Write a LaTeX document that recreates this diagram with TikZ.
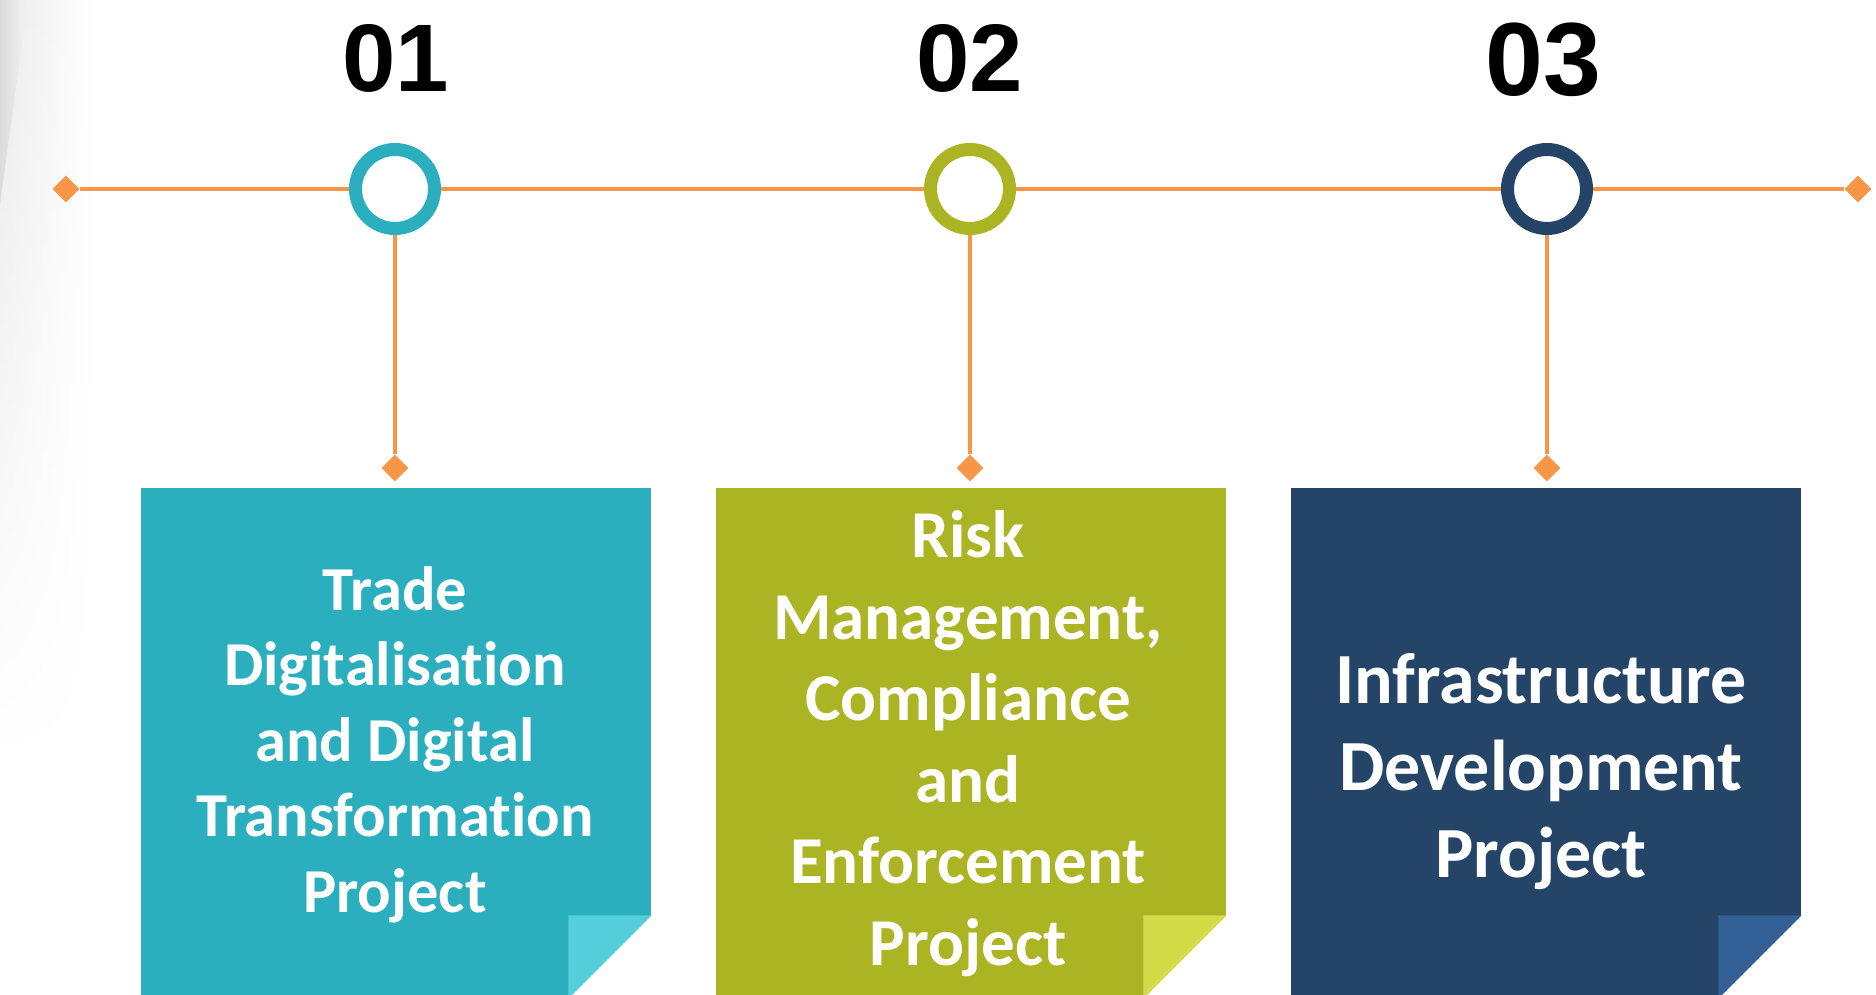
\documentclass[tikz,border=0pt]{standalone}
\usepackage{fontspec}
\usetikzlibrary{shapes.geometric}
\usetikzlibrary{positioning}
\usetikzlibrary{fadings}
\newfontfamily\cardfont[Ligatures=NoCommon]{Carlito}
\newfontfamily\numfont{Liberation Sans}
\definecolor{tlorange}{HTML}{F79646}
\definecolor{tealbox}{HTML}{2BAFBF}
\definecolor{tealfold}{HTML}{55CFDB}
\definecolor{olivebox}{HTML}{ABB423}
\definecolor{olivefold}{HTML}{D3DC48}
\definecolor{navybox}{HTML}{244468}
\definecolor{navyfold}{HTML}{336096}
\tikzset{
    ring/.style = {circle, line width=13pt, fill=white, minimum size=79pt, inner sep=0pt},
    tip/.style = {diamond, fill=tlorange, minimum size=27pt, inner sep=0pt},
    link/.style = {-, line width=4pt, tlorange},
    card/.style = {rectangle, minimum width=510pt, minimum height=510pt, inner sep=0pt, anchor=north west},
    cardtext/.style = {align=center, text=white, anchor=base, inner sep=0pt, font=\cardfont\bfseries},
    stepno/.style = {anchor=base, inner sep=0pt, font=\numfont\bfseries}
}

\begin{document}
\begin{tikzpicture}[x=1pt, y=1pt]
\clip (0,0) rectangle (1876,994);
% page shadow on the left edge
\shade[left color=gray!16, right color=white, path fading=south] (0,230) rectangle (95,994);
\shade[left color=gray!28, right color=gray!10] (0,994) -- (28,994) -- (0,790) -- cycle;

% timeline
\node[tip] (L) at (66,805) {};
\node[tip] (R) at (1858,805) {};
\draw[link] (L) -- (R);

\node[tip] (D1) at (395,526) {};
\node[tip] (D2) at (970,526) {};
\node[tip] (D3) at (1547,526) {};
\draw[link] (395,805) -- (D1);
\draw[link] (970,805) -- (D2);
\draw[link] (1547,805) -- (D3);

\node[ring, draw=tealbox] (C1) at (395,805) {};
\node[ring, draw=olivebox] (C2) at (970,805) {};
\node[ring, draw=navybox] (C3) at (1547,805) {};

\node[stepno, font=\numfont\bfseries\fontsize{96}{110}\selectfont] (N1) at (396,902) {01};
\node[stepno, font=\numfont\bfseries\fontsize{96}{110}\selectfont] (N2) at (970,902) {02};
\node[stepno, font=\numfont\bfseries\fontsize{104}{120}\selectfont] (N3) at (1543,898) {03};

% cards with folded corner
\node[card, fill=tealbox] (B1) at (141,506) {};
\fill[white] (B1.south east) -- ++(0,83) -- ++(-83,-83) -- cycle;
\fill[tealfold] ([xshift=-83pt]B1.south east) -- ++(0,83) -- ++(83,0) -- cycle;

\node[card, fill=olivebox] (B2) at (716,506) {};
\fill[white] (B2.south east) -- ++(0,83) -- ++(-83,-83) -- cycle;
\fill[olivefold] ([xshift=-83pt]B2.south east) -- ++(0,83) -- ++(83,0) -- cycle;

\node[card, fill=navybox] (B3) at (1291,506) {};
\fill[white] (B3.south east) -- ++(0,83) -- ++(-83,-83) -- cycle;
\fill[navyfold] ([xshift=-83pt]B3.south east) -- ++(0,83) -- ++(83,0) -- cycle;

% base anchor sits on the last line
\node[cardtext, font=\cardfont\bfseries\fontsize{62.5}{75.5}\selectfont] (T1) at (395,82)
  {Trade\\Digitalisation\\and Digital\\Transformation\\Project};
\node[cardtext, font=\cardfont\bfseries\fontsize{67}{81.5}\selectfont] (T2) at (968,29)
  {Risk\\Management,\\Compliance\\and\\Enforcement\\Project};
\node[cardtext, font=\cardfont\bfseries\fontsize{72}{87}\selectfont] (T3) at (1541,117)
  {Infrastructure\\Development\\Project};
\end{tikzpicture}
\end{document}
